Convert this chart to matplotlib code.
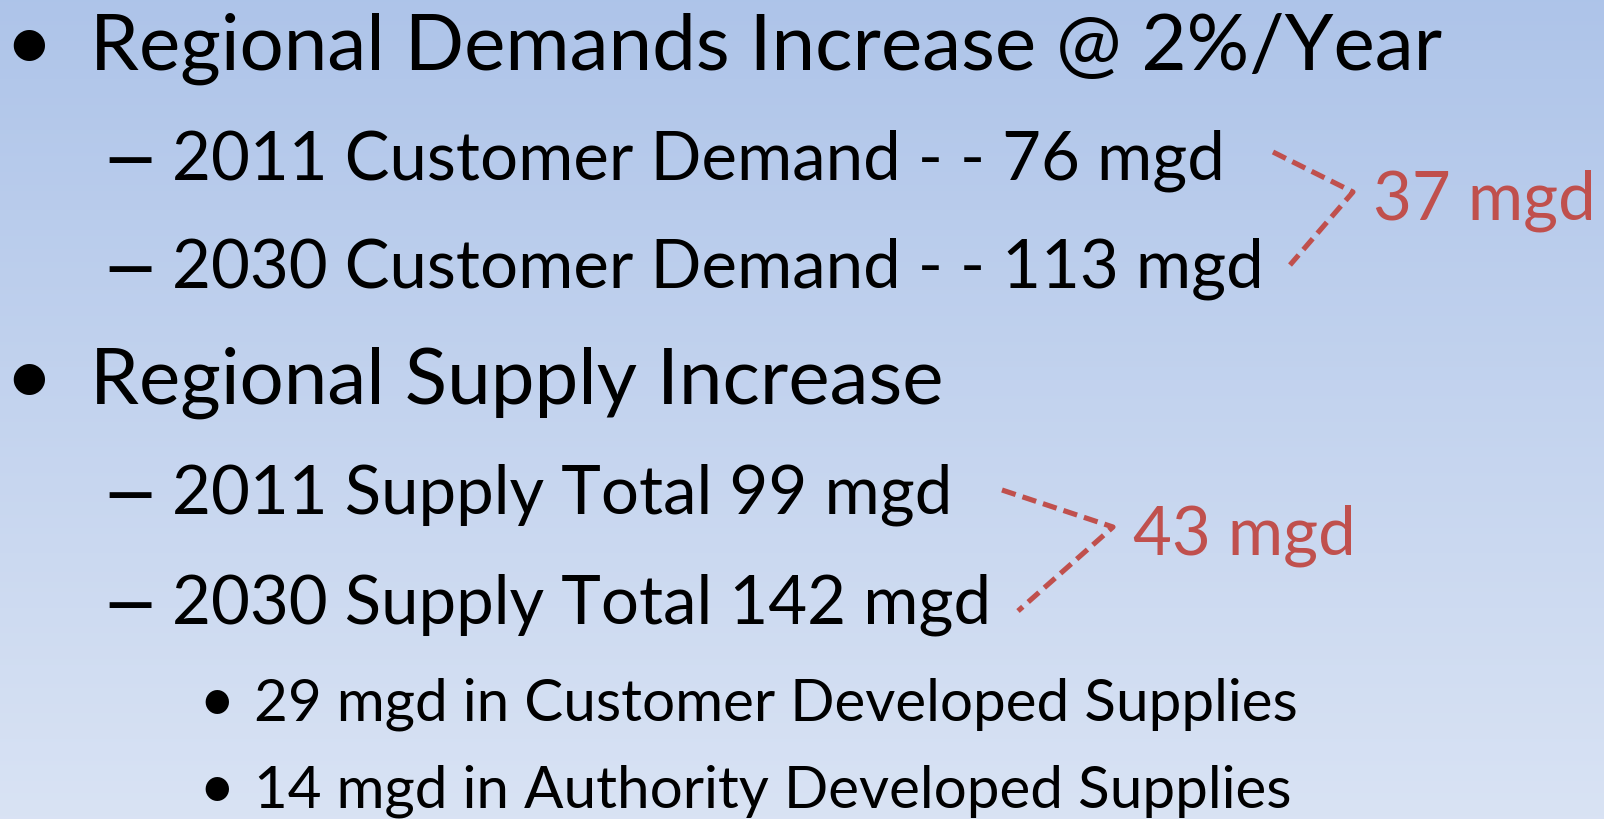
import numpy as np
import matplotlib.pyplot as plt

# Slide text: (level, text, baseline y in px)
lines = [
    (0, "Regional Demands Increase @ 2%/Year", 70),
    (1, "2011 Customer Demand - - 76 mgd", 179),
    (1, "2030 Customer Demand - - 113 mgd", 288),
    (0, "Regional Supply Increase", 404),
    (1, "2011 Supply Total 99 mgd", 514),
    (1, "2030 Supply Total 142 mgd", 624),
    (2, "29 mgd in Customer Developed Supplies", 721),
    (2, "14 mgd in Authority Developed Supplies", 808),
]
# difference labels and the dashed brackets pointing at them
diff_labels = ["37 mgd", "43 mgd"]
diff_pos = [(1373, 220), (1133, 555)]
brackets = [
    ([1273, 1353, 1290], [153, 193, 266]),
    ([1002, 1113, 1018], [491, 528, 612]),
]

# per level: marker centre x, text x, target width of a reference line
mark_x = {0: 29, 1: 130, 2: 217}
text_x = {0: 90, 1: 172, 2: 254}
ref_width = {0: (0, 1350), 1: (1, 1052), 2: (6, 1043)}

red = "#C0504D"
font = "Lato"
W, H = 1604, 820

fig = plt.figure(figsize=(W / 100, H / 100), dpi=100)
ax = fig.add_axes([0, 0, 1, 1])
ax.set_xlim(0, W)
ax.set_ylim(H, 0)
ax.axis("off")

# background gradient
top = np.array([0.682, 0.769, 0.914])
bot = np.array([0.851, 0.890, 0.957])
t = np.linspace(0, 1, 256)[:, None, None]
grad = top * (1 - t) + bot * t
ax.imshow(grad, extent=[0, W, H, 0], aspect="auto", zorder=0)

fig.canvas.draw()
renderer = fig.canvas.get_renderer()

# work out font size per level so the reference line has the right width
sizes = {}
for lev, (idx, target) in ref_width.items():
    tmp = ax.text(0, 0, lines[idx][1], fontsize=40, family=font)
    w = tmp.get_window_extent(renderer).width
    tmp.remove()
    sizes[lev] = 40 * target / w

for lev, txt, y in lines:
    fs = sizes[lev]
    ax.text(text_x[lev], y, txt, fontsize=fs, family=font, va="baseline",
            ha="left", color="black")
    if lev == 1:
        ax.text(mark_x[lev], y, "\u2014", fontsize=fs * 0.92, family=font,
                fontweight="bold", va="baseline", ha="center", color="black")
    else:
        ax.text(mark_x[lev], y, "\u2022", fontsize=fs * 1.08, family=font,
                va="baseline", ha="center", color="black")

for (xs, ys) in brackets:
    ax.plot(xs, ys, color=red, lw=3.7, dashes=(2.8, 1.4), solid_capstyle="butt")

for lab, (x, y) in zip(diff_labels, diff_pos):
    ax.text(x, y, lab, fontsize=sizes[1], family=font, color=red,
            va="baseline", ha="left")

fig.savefig("out.png", dpi=100)
